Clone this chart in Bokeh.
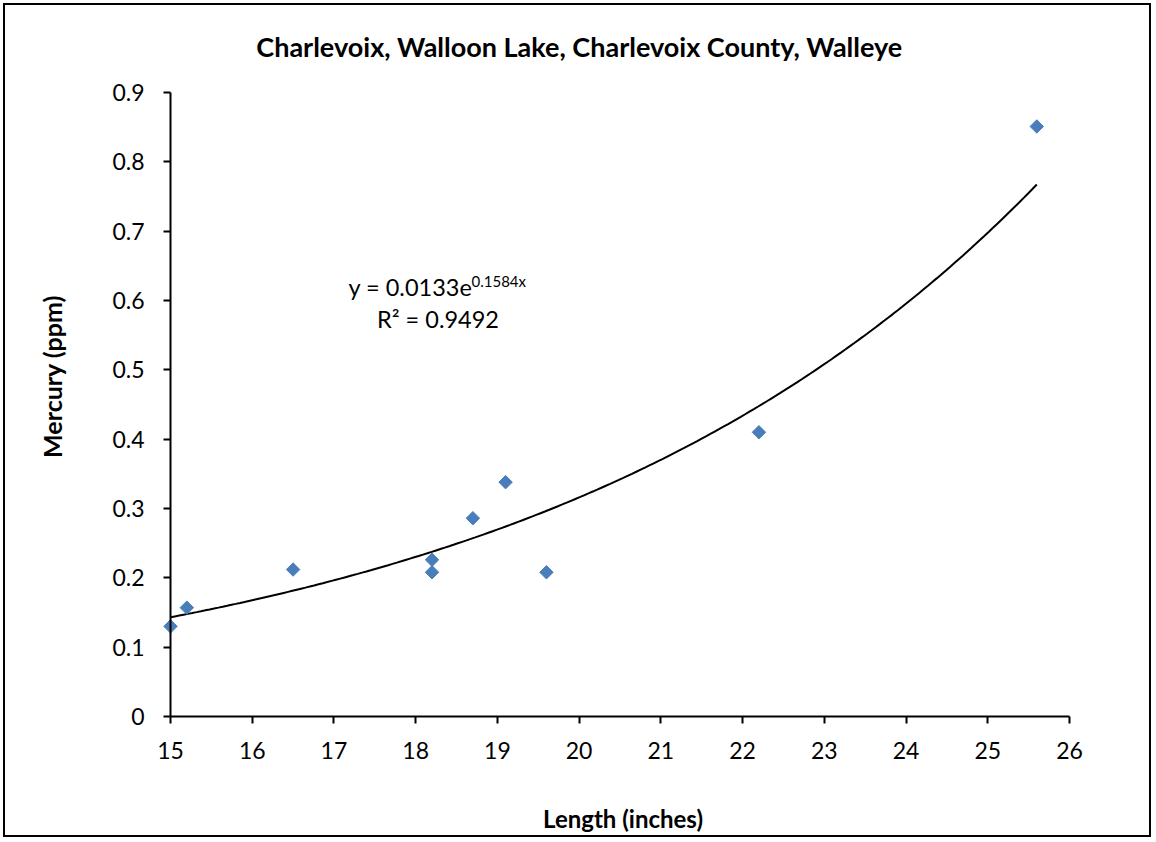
import numpy as np
from bokeh.plotting import figure
from bokeh.models import Label, FixedTicker, Range1d
from bokeh.embed import file_html
from bokeh.resources import INLINE

length_in = [15.0, 15.2, 16.5, 18.2, 18.2, 18.7, 19.1, 19.6, 22.2, 25.6]
mercury_ppm = [0.13, 0.157, 0.212, 0.226, 0.208, 0.286, 0.338, 0.208, 0.41, 0.851]
fit_a = 0.0133
fit_b = 0.1584
x_ticks = [15, 16, 17, 18, 19, 20, 21, 22, 23, 24, 25, 26]
y_ticks = [0, 0.1, 0.2, 0.3, 0.4, 0.5, 0.6, 0.7, 0.8, 0.9]
y_labels = ["0", "0.1", "0.2", "0.3", "0.4", "0.5", "0.6", "0.7", "0.8", "0.9"]

FONT = "Lato"

# frame covers the whole canvas; axes are pinned at x=15 / y=0
p = figure(width=1148, height=834, output_backend="svg", toolbar_location=None,
           x_range=Range1d(12.981, 27.028), y_range=Range1d(-0.1774, 1.0255),
           min_border=0)
p.styles = {"border": "2px solid black", "margin-left": "3px", "margin-top": "3px"}
p.outline_line_color = None
p.xgrid.grid_line_color = None
p.ygrid.grid_line_color = None

for ax in (p.xaxis[0], p.yaxis[0]):
    ax.axis_line_color = "black"
    ax.axis_line_width = 2
    ax.major_tick_line_color = "black"
    ax.major_tick_line_width = 2
    ax.major_tick_out = 7
    ax.major_tick_in = 0
    ax.minor_tick_line_color = None
    ax.major_label_text_font = FONT
    ax.major_label_text_font_size = "23px"
    ax.major_label_text_color = "black"

p.xaxis.fixed_location = 0
p.yaxis.fixed_location = 15
p.xaxis.bounds = (15, 26)
p.yaxis.bounds = (0, 0.9)
p.xaxis.ticker = FixedTicker(ticks=x_ticks)
p.yaxis.ticker = FixedTicker(ticks=y_ticks)
p.yaxis.major_label_overrides = {t: l for t, l in zip(y_ticks, y_labels)}
p.xaxis.major_label_standoff = 18
p.yaxis.major_label_standoff = 19

# trendline
xs = np.linspace(min(length_in), max(length_in), 200)
ys = fit_a * np.exp(fit_b * xs)
p.line(xs, ys, line_color="black", line_width=2)

p.scatter(length_in, mercury_ppm, marker="square", angle=np.pi / 4, size=9.5,
          fill_color="#4A7EBB", line_color="#4A7EBB")

# title and axis labels
p.add_layout(Label(x=20.004, y=0.9663, text="Charlevoix, Walloon Lake, Charlevoix County, Walleye",
                   text_align="center", text_baseline="middle", text_font=FONT,
                   text_font_style="bold", text_font_size="27px", text_color="black"))
p.add_layout(Label(x=20.537, y=-0.1465, text="Length (inches)",
                   text_align="center", text_baseline="middle", text_font=FONT,
                   text_font_style="bold", text_font_size="24px", text_color="black"))
p.add_layout(Label(x=13.544, y=0.4904, text="Mercury (ppm)", angle=np.pi / 2,
                   text_align="center", text_baseline="middle", text_font=FONT,
                   text_font_style="bold", text_font_size="25px", text_color="black"))

# equation
p.add_layout(Label(x=17.178, y=0.6188, text="y = 0.0133e",
                   text_align="left", text_baseline="middle", text_font=FONT,
                   text_font_size="23.5px", text_color="black"))
p.add_layout(Label(x=18.683, y=0.6284, text="0.1584x",
                   text_align="left", text_baseline="middle", text_font=FONT,
                   text_font_size="15px", text_color="black"))
p.add_layout(Label(x=18.273, y=0.574, text="R² = 0.9492",
                   text_align="center", text_baseline="middle", text_font=FONT,
                   text_font_size="23.5px", text_color="black"))

open("out.html", "w").write(file_html(p, INLINE))
